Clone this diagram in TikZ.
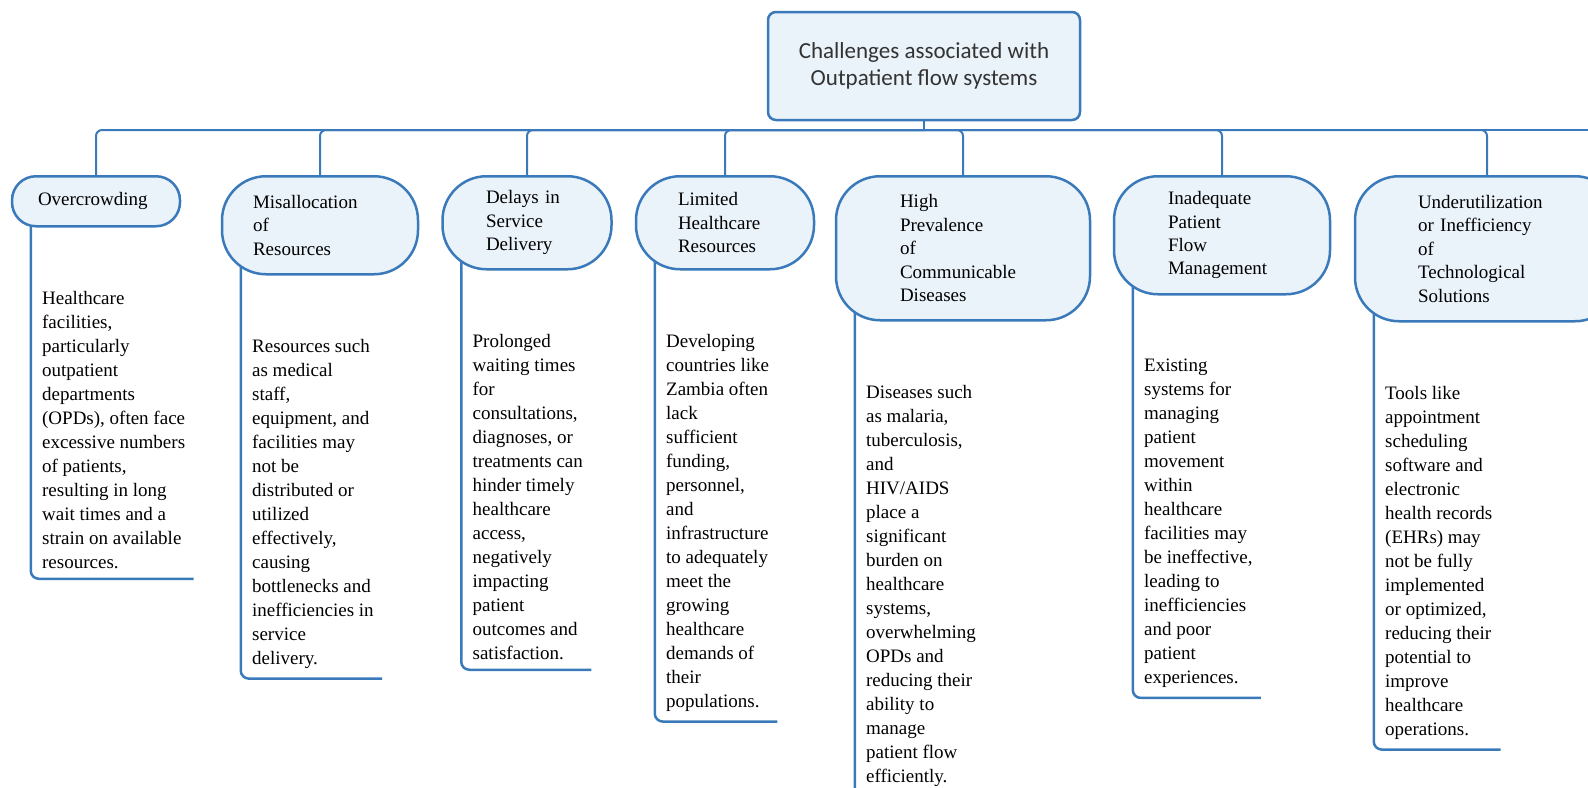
\documentclass[tikz,border=0pt]{standalone}
\usepackage{fontspec}
\setmainfont{Liberation Serif}
\newfontfamily\rootfont{Carlito}
\usetikzlibrary{calc}
\definecolor{flowblue}{RGB}{58,122,186}
\definecolor{flowfill}{RGB}{234,242,250}
\pgfdeclarelayer{background}
\pgfsetlayers{background,main}
\tikzset{
  rootbox/.style={draw=flowblue, fill=flowfill, line width=1.25pt, rounded corners=4pt, minimum width=156pt, minimum height=54pt, align=center, text=black!80, font=\rootfont\fontsize{11.5}{13.5}\selectfont},
  topic/.style n args={3}{draw=flowblue, fill=flowfill, line width=1.25pt, rounded corners=22pt, minimum width=#1, minimum height=#2, text width=#3, inner sep=2pt, align=left, anchor=north, font=\fontsize{9.5}{11.7}\selectfont},
  desc/.style={anchor=north west, inner sep=0pt, align=left, font=\fontsize{9.5}{12}\selectfont},
  link/.style={draw=flowblue, line width=1pt, rounded corners=3pt},
  bracket/.style={draw=flowblue, line width=1.25pt, rounded corners=4pt},
}
\begin{document}
\begin{tikzpicture}[x=0.5pt, y=-0.5pt]
  \useasboundingbox (0,0) rectangle (1588,787);

  % Root
  \node[rootbox] (root) at (924,66) {Challenges associated with\\Outpatient flow systems};
  \coordinate (bus) at (924,130);
  \coordinate (busend) at (1588,130);

  % Challenges
  \node[topic={84pt}{25pt}{58pt}, rounded corners=12pt] (over) at (96,175) {Overcrowding};
  \node[topic={98pt}{49pt}{67pt}] (misal) at (320,175) {Misallocation\\of\\Resources};
  \node[topic={84.5pt}{46.5pt}{41pt}] (delay) at (527,175) {Delays in\\Service\\Delivery};
  \node[topic={89pt}{46.5pt}{47pt}] (limit) at (725,175) {Limited\\Healthcare\\Resources};
  \node[topic={127pt}{72pt}{63pt}] (prev) at (963,175) {High\\Prevalence\\of\\Communicable\\Diseases};
  \node[topic={108pt}{59pt}{54pt}] (flow) at (1222,175) {Inadequate\\Patient\\Flow\\Management};
  \node[topic={132pt}{72.5pt}{69pt}] (tech) at (1487,175) {Underutilization\\or Inefficiency\\of\\Technological\\Solutions};

  % Descriptions
  \node[desc] (overtxt) at ($(over.south west)+(31,63)$) {Healthcare\\facilities,\\particularly\\outpatient\\departments\\(OPDs), often face\\excessive numbers\\of patients,\\resulting in long\\wait times and a\\strain on available\\resources.};
  \node[desc] (misaltxt) at ($(misal.south west)+(31,63)$) {Resources such\\as medical\\staff,\\equipment, and\\facilities may\\not be\\distributed or\\utilized\\effectively,\\causing\\bottlenecks and\\inefficiencies in\\service\\delivery.};
  \node[desc] (delaytxt) at ($(delay.south west)+(31,63)$) {Prolonged\\waiting times\\for\\consultations,\\diagnoses, or\\treatments can\\hinder timely\\healthcare\\access,\\negatively\\impacting\\patient\\outcomes and\\satisfaction.};
  \node[desc] (limittxt) at ($(limit.south west)+(31,63)$) {Developing\\countries like\\Zambia often\\lack\\sufficient\\funding,\\personnel,\\and\\infrastructure\\to adequately\\meet the\\growing\\healthcare\\demands of\\their\\populations.};
  \node[desc] (prevtxt) at ($(prev.south west)+(31,63)$) {Diseases such\\as malaria,\\tuberculosis,\\and\\HIV/AIDS\\place a\\significant\\burden on\\healthcare\\systems,\\overwhelming\\OPDs and\\reducing their\\ability to\\manage\\patient flow\\efficiently.};
  \node[desc] (flowtxt) at ($(flow.south west)+(31,63)$) {Existing\\systems for\\managing\\patient\\movement\\within\\healthcare\\facilities may\\be ineffective,\\leading to\\inefficiencies\\and poor\\patient\\experiences.};
  \node[desc] (techtxt) at ($(tech.south west)+(31,63)$) {Tools like\\appointment\\scheduling\\software and\\electronic\\health records\\(EHRs) may\\not be fully\\implemented\\or optimized,\\reducing their\\potential to\\improve\\healthcare\\operations.};

  % Connectors
  \begin{pgfonlayer}{background}
    \draw[link] (root.south) -- (bus);
    \draw[link] (bus) -- (busend);
    \foreach \n in {over,misal,delay,limit,prev,flow,tech}
      \draw[link] (bus) -| (\n.north);
    \foreach \n in {over,misal,delay,limit,prev,flow,tech}
      \draw[bracket] ($(\n.west)+(20,0)$) |- ($(\n txt.south east)+(8,10)$);
  \end{pgfonlayer}
\end{tikzpicture}
\end{document}
